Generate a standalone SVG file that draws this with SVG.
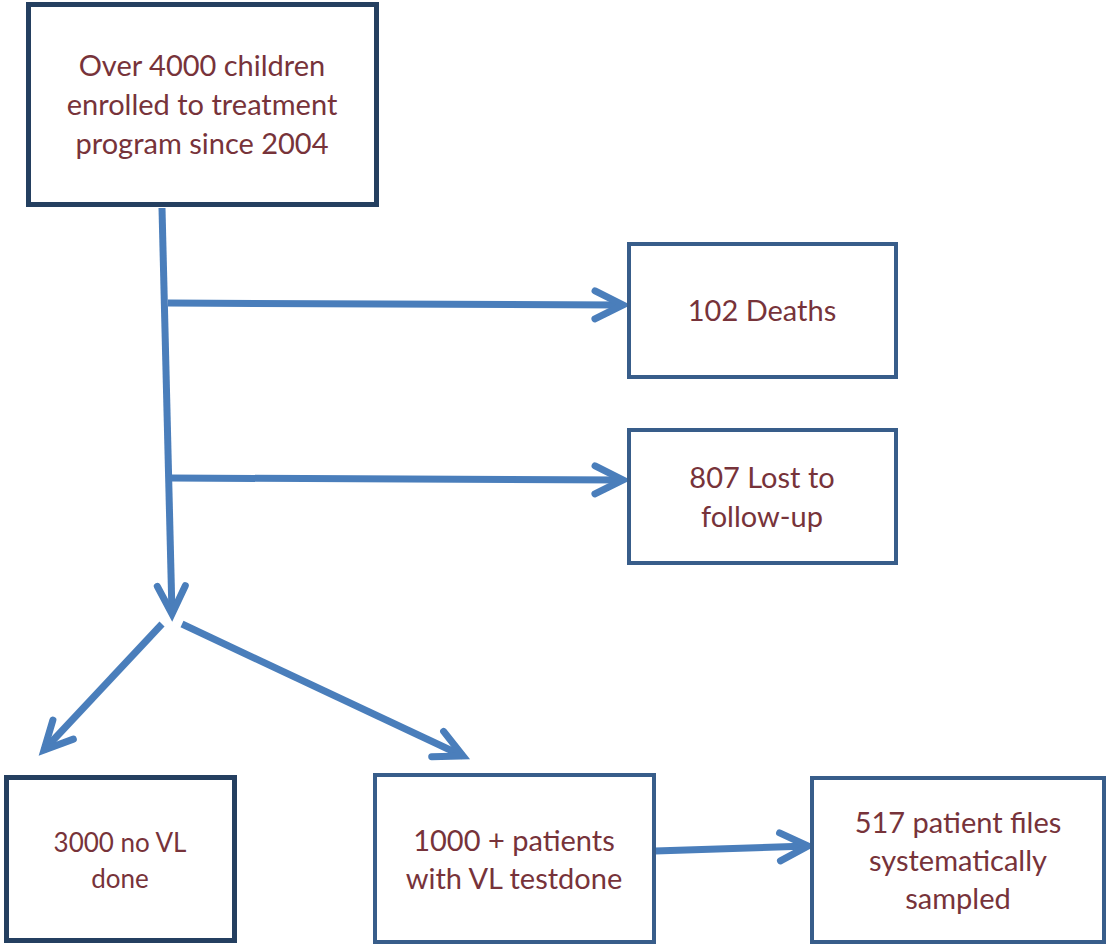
<svg xmlns="http://www.w3.org/2000/svg" width="1107" height="948" viewBox="0 0 1107 948">
<style>
.box{fill:#fff;stroke-linejoin:miter}
.dark{stroke:#243F60;stroke-width:5}
.mid{stroke:#385D8A;stroke-width:4}
.t{font-family:Lato,"Open Sans","Liberation Sans",sans-serif;font-size:29px;fill:#77333A;text-anchor:middle}
.s{font-size:26px}
.c{fill:none;stroke:#4A7EBB;stroke-width:7;marker-end:url(#chev)}
</style>
<defs>
<marker id="chev" markerUnits="userSpaceOnUse" markerWidth="40" markerHeight="40" refX="0" refY="0" orient="auto" overflow="visible">
<path d="M-28,-14 L0,0 L-28,14" fill="none" stroke="#4A7EBB" stroke-width="7" stroke-linecap="round" stroke-linejoin="miter"/>
</marker>
</defs>
<rect width="1107" height="948" fill="#fff"/>
<g id="connectors">
<path class="c" d="M162,208 L172,614"/>
<path class="c" d="M168,303 L623,305"/>
<path class="c" d="M170,478 L623,480"/>
<path class="c" d="M162,624 L44,750"/>
<path class="c" d="M182,624 L463,756"/>
<path class="c" d="M655,851 L808,846"/>
</g>
<g id="n1">
<rect class="box dark" x="28.5" y="4.5" width="348" height="200"/>
<text class="t" x="202" y="76">Over 4000 children</text>
<text class="t" x="202" y="115">enrolled to treatment</text>
<text class="t" x="202" y="154">program since 2004</text>
</g>
<g id="n2">
<rect class="box mid" x="629" y="244" width="267" height="133"/>
<text class="t" x="762" y="321">102 Deaths</text>
</g>
<g id="n3">
<rect class="box mid" x="629" y="430" width="267" height="133"/>
<text class="t" x="762" y="488">807 Lost to</text>
<text class="t" x="762" y="527">follow-up</text>
</g>
<g id="n4">
<rect class="box dark" x="6.5" y="777.5" width="228" height="163"/>
<text class="t s" x="120" y="852">3000 no VL</text>
<text class="t s" x="120" y="888">done</text>
</g>
<g id="n5">
<rect class="box mid" x="375" y="775" width="279" height="167"/>
<text class="t" x="514" y="851">1000 + patients</text>
<text class="t" x="514" y="889">with VL testdone</text>
</g>
<g id="n6">
<rect class="box mid" x="812" y="778" width="292" height="164"/>
<text class="t" x="958" y="833">517 patient files</text>
<text class="t" x="958" y="871">systematically</text>
<text class="t" x="958" y="909">sampled</text>
</g>
</svg>
